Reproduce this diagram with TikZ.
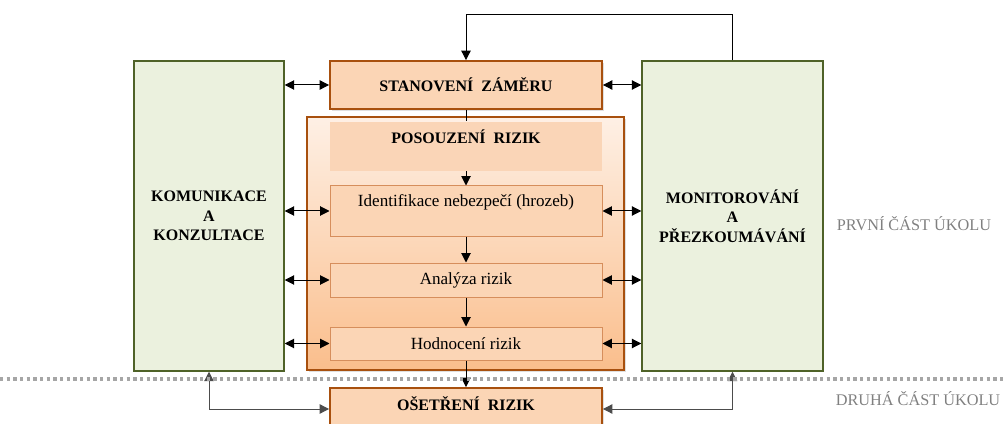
\documentclass[tikz,border=0pt]{standalone}
\usepackage{fontspec}
\setmainfont{Liberation Serif}
\usetikzlibrary{arrows.meta,shadows}

\definecolor{zelena}{RGB}{235,241,222}
\definecolor{zelenaline}{RGB}{79,98,40}
\definecolor{broskev}{RGB}{251,213,181}
\definecolor{broskevline}{RGB}{168,80,14}
\definecolor{krokline}{RGB}{214,142,92}
\definecolor{svetla}{RGB}{254,240,229}
\definecolor{tmavsi}{RGB}{250,190,140}
\definecolor{hlavicka}{RGB}{250,213,183}
\definecolor{seda}{RGB}{128,128,128}

\tikzset{every picture/.style={line width=0.75pt}}
\tikzset{
  zelenybox/.style={draw=zelenaline, fill=zelena, line width=1.1pt, inner sep=0pt, align=center,
    font=\fontsize{12}{14.5}\selectfont\bfseries},
  hlavnibox/.style={draw=broskevline, fill=broskev, line width=1.4pt, inner sep=0pt,
    drop shadow={opacity=0.25, shadow xshift=1.5pt, shadow yshift=-1.5pt},
    font=\fontsize{12}{14}\selectfont\bfseries},
  krokbox/.style={draw=krokline, fill=broskev, line width=0.75pt, inner sep=0pt,
    minimum width=204pt, font=\fontsize{12.8}{14}\selectfont},
  dvoj/.style={{Triangle[length=7pt,width=7pt]}-{Triangle[length=7pt,width=7pt]}},
  sipka/.style={-{Triangle[length=7pt,width=7pt]}},
  popisek/.style={text=seda, font=\fontsize{12.2}{14}\selectfont}
}

\begin{document}
\begin{tikzpicture}[x=0.75pt,y=0.75pt,yscale=-1,xscale=1]
	\useasboundingbox (0,0) rectangle (1003,424);
	\clip (0,0) rectangle (1003,424);

	%Shape: side boxes
	\node[zelenybox, minimum width=112.5pt, minimum height=232.5pt] (komunikace) at (209,216) {KOMUNIKACE\\A\\KONZULTACE};
	\node[zelenybox, minimum width=135.75pt, minimum height=232.5pt] (monitor) at (732.5,216) {MONITOROVÁNÍ\\A\\PŘEZKOUMÁVÁNÍ};

	%Shape: main boxes
	\node[hlavnibox, minimum width=204pt, minimum height=36pt] (zamer) at (466,85) {STANOVENÍ~~ZÁMĚRU};
	\node[hlavnibox, top color=svetla, bottom color=tmavsi, minimum width=237.75pt, minimum height=189.75pt] (posouzeni) at (465.5,243.5) {};
	\node[fill=hlavicka, inner sep=0pt, minimum width=204pt, minimum height=36.75pt] (hlava) at (466,146.5) {};
	\node[hlavnibox, minimum width=204pt, minimum height=31.5pt] (osetreni) at (466,409) {};

	%Shape: steps
	\node[krokbox, minimum height=37.5pt] (identifikace) at (466,211) {};
	\node[krokbox, minimum height=25.5pt] (analyza) at (466,280) {Analýza rizik};
	\node[krokbox, minimum height=24.75pt] (hodnoceni) at (466,343.5) {Hodnocení rizik};

	% Text Node
	\node[font=\fontsize{12}{14}\selectfont\bfseries] (hlavatext) at (466,137) {POSOUZENÍ~~RIZIK};
	% Text Node
	\node[font=\fontsize{12.8}{14}\selectfont] (identifikacetext) at (466,202) {Identifikace nebezpečí (hrozeb)};
	% Text Node
	\node[font=\fontsize{12}{14}\selectfont\bfseries] (osetrenitext) at (466,404) {OŠETŘENÍ~~RIZIK};

	%Straight Lines: flow
	\draw (zamer.south) -- (hlava.north);
	\draw[sipka] (hlava.south) -- (identifikace.north);
	\draw[sipka] (identifikace.south) -- (analyza.north);
	\draw[sipka] (analyza.south) -- (hodnoceni.north);
	\draw[sipka] (hodnoceni.south) -- (osetreni.north);

	%Straight Lines: left side
	\foreach \krok in {zamer,identifikace,analyza,hodnoceni}
		\draw[dvoj] (komunikace.east |- \krok.west) -- (\krok.west);
	%Straight Lines: right side
	\foreach \krok in {zamer,identifikace,analyza,hodnoceni}
		\draw[dvoj] (\krok.east) -- (monitor.west |- \krok.east);

	%Straight Lines: loops
	\draw[sipka] (monitor.north) -- ++(0,-46) -| (zamer.north);
	\draw[dvoj, draw=black!70] (komunikace.south) |- (osetreni.west);
	\draw[dvoj, draw=black!70] (monitor.south) |- (osetreni.east);

	%Dotted line
	\draw[draw=black!35, line width=2.5pt, dash pattern=on 2.5pt off 2.5pt] (0,379) -- (1003,379);

	% Text Node
	\node[popisek] (prvni) at (914,224) {PRVNÍ ČÁST ÚKOLU};
	% Text Node
	\node[popisek] (druha) at (918,399) {DRUHÁ ČÁST ÚKOLU};

\end{tikzpicture}
\end{document}
